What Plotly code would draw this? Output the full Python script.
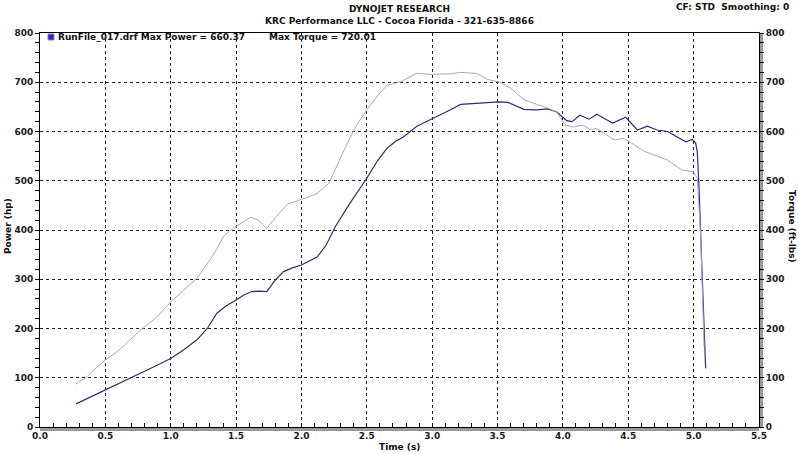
import plotly.graph_objects as go

# ---------------- data ----------------
power_t = [0.276, 0.30, 0.35, 0.40, 0.50, 0.60, 0.75, 0.90, 1.00, 1.10, 1.20, 1.28, 1.353, 1.42,
           1.50, 1.56, 1.62, 1.68, 1.735, 1.79, 1.86, 1.93, 2.00, 2.12, 2.19, 2.26, 2.37, 2.50,
           2.58, 2.655, 2.72, 2.78, 2.88, 3.00, 3.07, 3.14, 3.216, 3.30, 3.37, 3.45, 3.51, 3.58,
           3.64, 3.70, 3.80, 3.88, 3.95, 4.03, 4.07, 4.13, 4.20, 4.26, 4.32, 4.38, 4.48, 4.57,
           4.645, 4.72, 4.80, 4.85, 4.94, 4.99, 5.015, 5.028, 5.041, 5.059, 5.074, 5.092]
power_hp = [47, 50, 56, 63, 75, 88, 107, 126, 139, 157, 177, 200, 231, 245,
            258, 268, 275, 276, 275, 295, 315, 323, 329, 345, 370, 407, 454, 505,
            540, 566, 580, 589, 610, 625, 634, 644, 655, 656, 657, 659, 660, 659,
            652, 645, 644, 646, 640, 622, 620, 633, 625, 635, 626, 617, 629, 603,
            611, 603, 600, 593, 579, 584, 577, 559, 488, 353, 244, 119]

torque_t = [0.27, 0.32, 0.36, 0.40, 0.50, 0.60, 0.75, 0.90, 1.00, 1.10, 1.20, 1.30, 1.35, 1.40,
            1.45, 1.50, 1.56, 1.61, 1.67, 1.735, 1.80, 1.89, 2.00, 2.12, 2.21, 2.28, 2.35, 2.42,
            2.50, 2.58, 2.655, 2.76, 2.88, 3.00, 3.14, 3.216, 3.28, 3.34, 3.42, 3.52, 3.60, 3.70,
            3.80, 3.88, 3.95, 4.02, 4.08, 4.15, 4.21, 4.26, 4.32, 4.39, 4.47, 4.53, 4.62, 4.70,
            4.80, 4.91, 5.00, 5.028, 5.054, 5.08]
torque_ftlb = [87, 95, 102, 113, 136, 155, 192, 225, 254, 278, 302, 339, 360, 386,
               398, 407, 418, 426, 420, 403, 425, 452, 462, 474, 495, 535, 576, 612,
               644, 672, 694, 701, 718, 716, 717, 720, 719, 718, 706, 700, 688, 665,
               655, 648, 640, 613, 609, 613, 604, 606, 596, 583, 586, 575, 560, 552,
               542, 522, 518, 505, 386, 163]

x_range = [0, 5.5]
y_range = [0, 800]
title_text = "DYNOJET RESEARCH"
subtitle_text = "KRC Performance LLC - Cocoa Florida - 321-635-8866"
cf_text = "CF: STD  Smoothing: 0"
legend_power = "RunFile_017.drf Max Power = 660.37"
legend_torque = "Max Torque = 720.01"

# ---------------- figure ----------------
FONT = "DejaVu Sans"
POWER_COLOR = "#2f2f6e"
TORQUE_COLOR = "#a8a8ba"

fig = go.Figure()
fig.add_trace(go.Scatter(x=torque_t, y=torque_ftlb, mode="lines", yaxis="y2",
                         line=dict(color=TORQUE_COLOR, width=1.0), name="Torque"))
fig.add_trace(go.Scatter(x=power_t, y=power_hp, mode="lines", yaxis="y",
                         line=dict(color=POWER_COLOR, width=1.2), name="Power"))

tickfont = dict(family=FONT, size=9, color="#1a1a1a", weight="bold")
grid = dict(showgrid=True, gridcolor="#222222", gridwidth=1, griddash="dot")

fig.update_layout(
    width=799, height=454,
    margin=dict(l=40, r=40, t=33, b=27),
    paper_bgcolor="white", plot_bgcolor="white",
    showlegend=False,
    font=dict(family=FONT, size=9, color="#111"),
    xaxis=dict(range=x_range, tick0=0, dtick=0.5, tickformat=".1f", zeroline=False,
               showline=True, linecolor="black", linewidth=1, mirror=True,
               ticks="inside", ticklen=4, tickcolor="black",
               minor=dict(dtick=0.1, ticks="inside", ticklen=4, tickcolor="black", showgrid=False),
               tickfont=tickfont, **grid),
    yaxis=dict(range=y_range, dtick=100, zeroline=False,
               showline=True, linecolor="black", linewidth=1,
               ticks="outside", ticklen=4, tickcolor="black",
               minor=dict(dtick=20, ticks="outside", ticklen=4, tickcolor="black", showgrid=False),
               tickfont=tickfont, **grid),
    yaxis2=dict(range=y_range, dtick=100, overlaying="y", side="right", zeroline=False,
                showgrid=False, showline=True, linecolor="black", linewidth=1,
                ticks="outside", ticklen=4, tickcolor="black",
                minor=dict(dtick=20, ticks="outside", ticklen=4, tickcolor="black", showgrid=False),
                tickfont=tickfont),
)

# gray shadow bands along bottom and right axes
fig.add_shape(type="rect", xref="paper", yref="paper", x0=0, x1=1,
              ysizemode="pixel", yanchor=0, y0=-4, y1=-1,
              fillcolor="#9a9a9a", line=dict(width=0), layer="below")
fig.add_shape(type="rect", xref="paper", yref="paper", y0=0, y1=1,
              xsizemode="pixel", xanchor=1, x0=1, x1=4,
              fillcolor="#9a9a9a", line=dict(width=0), layer="below")

# legend marker square
fig.add_shape(type="rect", xref="paper", yref="paper",
              xsizemode="pixel", xanchor=0, x0=8, x1=14,
              ysizemode="pixel", yanchor=1, y0=-1, y1=-7,
              fillcolor="#2a2aa8", line=dict(color="#8080d0", width=1))

def px_x(px):
    return (px - 40) / 719.0

def px_y(py):
    return (427 - py) / 394.0

bold = dict(family=FONT, size=9, color="#111", weight="bold")
ann = [
    dict(text=title_text, x=0.5, y=px_y(9), xanchor="center", yanchor="middle"),
    dict(text=subtitle_text, x=0.5, y=px_y(21), xanchor="center", yanchor="middle"),
    dict(text=cf_text, x=px_x(791), y=px_y(7), xanchor="right", yanchor="middle"),
    dict(text=legend_power, x=px_x(56), y=px_y(37), xanchor="left", yanchor="middle"),
    dict(text=legend_torque, x=px_x(267), y=px_y(37), xanchor="left", yanchor="middle"),
    dict(text="Time (s)", x=0.5, y=px_y(447), xanchor="center", yanchor="middle"),
    dict(text="Power (hp)", x=px_x(8), y=px_y(226), xanchor="center", yanchor="middle", textangle=-90),
    dict(text="Torque (ft-lbs)", x=px_x(792), y=px_y(226), xanchor="center", yanchor="middle", textangle=90),
]
for a in ann:
    fig.add_annotation(xref="paper", yref="paper", showarrow=False, font=bold, **a)

fig.write_html("out.html")
